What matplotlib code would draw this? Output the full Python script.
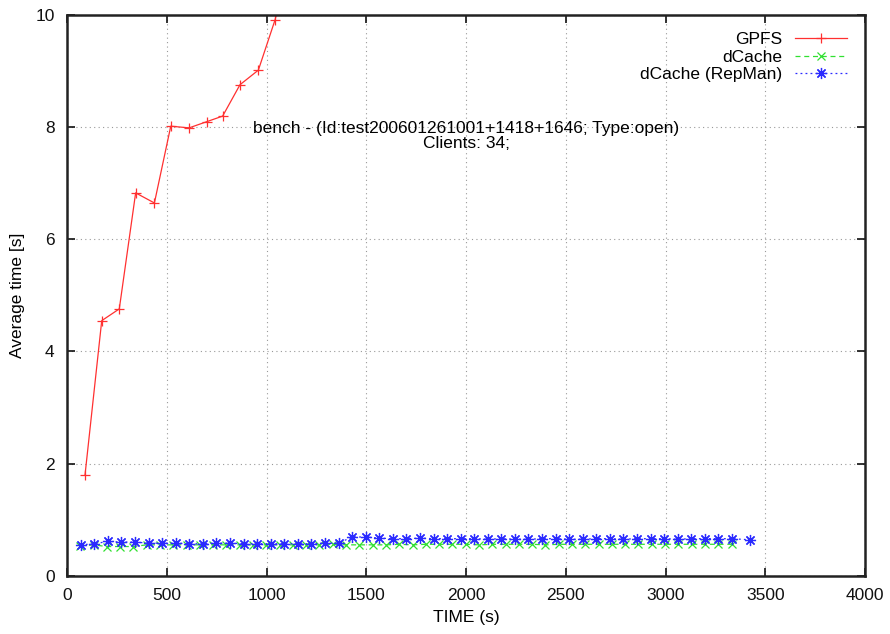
import matplotlib
matplotlib.use("Agg")
import matplotlib.pyplot as plt

plt.rcParams['font.family'] = ['Liberation Sans', 'DejaVu Sans']

# GPFS (red, solid, +)
gpfs_t = [90, 174, 262, 344, 438, 520, 612, 700, 780, 867, 959, 1043, 1130]
gpfs_y = [1.79, 4.55, 4.76, 6.83, 6.65, 8.02, 7.99, 8.10, 8.20, 8.76, 9.02, 9.92, 11.2]

# dCache (green, dashed, x)
dc_t = [66, 133, 199, 266, 333, 399, 466, 532, 599, 666, 732, 799, 866, 932, 999,
        1066, 1132, 1199, 1265, 1332, 1399, 1465, 1532, 1599, 1665, 1732, 1798, 1865,
        1932, 1998, 2065, 2132, 2198, 2265, 2332, 2398, 2465, 2531, 2598, 2665, 2731,
        2798, 2864, 2931, 2998, 3064, 3131, 3198, 3264, 3331]
dc_y = [0.53, 0.55, 0.52, 0.52, 0.52, 0.55, 0.55, 0.55, 0.55, 0.55, 0.55, 0.55, 0.55,
        0.55, 0.55, 0.55, 0.55, 0.55, 0.55, 0.56, 0.55, 0.55, 0.55, 0.55, 0.56, 0.55,
        0.56, 0.56, 0.56, 0.56, 0.55, 0.56, 0.56, 0.56, 0.56, 0.55, 0.56, 0.56, 0.56,
        0.56, 0.56, 0.56, 0.56, 0.56, 0.56, 0.56, 0.56, 0.56, 0.56, 0.56]

# dCache (RepMan) (blue, dotted, *)
rm_t = [69, 137, 205, 273, 341, 409, 477, 545, 613, 681, 749, 817, 885, 953, 1021,
        1089, 1157, 1225, 1293, 1361, 1429, 1497, 1565, 1633, 1701, 1769, 1837, 1905,
        1973, 2041, 2109, 2177, 2245, 2313, 2381, 2449, 2517, 2585, 2653, 2721, 2789,
        2857, 2925, 2993, 3061, 3129, 3197, 3265, 3333, 3424]
rm_y = [0.55, 0.57, 0.61, 0.60, 0.60, 0.58, 0.58, 0.58, 0.57, 0.57, 0.58, 0.58, 0.57,
        0.57, 0.57, 0.57, 0.57, 0.57, 0.58, 0.58, 0.69, 0.69, 0.67, 0.66, 0.66, 0.67,
        0.66, 0.66, 0.66, 0.66, 0.65, 0.66, 0.65, 0.65, 0.66, 0.66, 0.65, 0.65, 0.66,
        0.66, 0.65, 0.66, 0.66, 0.66, 0.65, 0.66, 0.66, 0.66, 0.66, 0.64]

xticks = [0, 500, 1000, 1500, 2000, 2500, 3000, 3500, 4000]
yticks = [0, 2, 4, 6, 8, 10]

fig = plt.figure(figsize=(8.9, 6.34), dpi=100)
ax = fig.add_axes([0.0753, 0.092, 0.8967, 0.884])

ax.plot(gpfs_t, gpfs_y, color='#ff3030', lw=0.9, marker='+', ms=7, mew=0.9, label='GPFS')
ax.plot(dc_t, dc_y, color='#30e030', lw=0.9, ls=(0, (4, 3)), marker='x', ms=6, mew=0.9,
        label='dCache')
ax.plot(rm_t, rm_y, color='#2a2aff', lw=0.9, ls=(0, (1.5, 2.5)), marker=(8, 2, 0), ms=8,
        mew=0.9, label='dCache (RepMan)')

ax.set_xlim(0, 4000)
ax.set_ylim(0, 10)
ax.set_xticks(xticks)
ax.set_yticks(yticks)
ax.tick_params(direction='in', length=6, width=1.2, top=True, right=True,
               labelsize=12.5, colors='#111111', pad=9)
ax.grid(True, ls=(0, (1, 3)), color='#999999', lw=0.8)
for s in ax.spines.values():
    s.set_linewidth(1.8)
    s.set_color('#222222')

ax.set_xlabel('TIME (s)', fontsize=12.5, labelpad=5)
ax.set_ylabel('Average time [s]', fontsize=12.5, labelpad=7)

ax.text(0.5, 0.812, 'bench - (Id:test200601261001+1418+1646; Type:open)\nClients: 34;',
        transform=ax.transAxes, ha='center', va='top', fontsize=12.5, linespacing=1.0)

leg = ax.legend(loc='upper right', frameon=False, markerfirst=False, fontsize=12.5,
                handlelength=3.0, labelspacing=0.12, borderaxespad=0.1, handletextpad=0.7,
                bbox_to_anchor=(0.988, 0.985))
for t in leg.get_texts():
    t.set_ha('right')

fig.savefig('out.png', dpi=100)
